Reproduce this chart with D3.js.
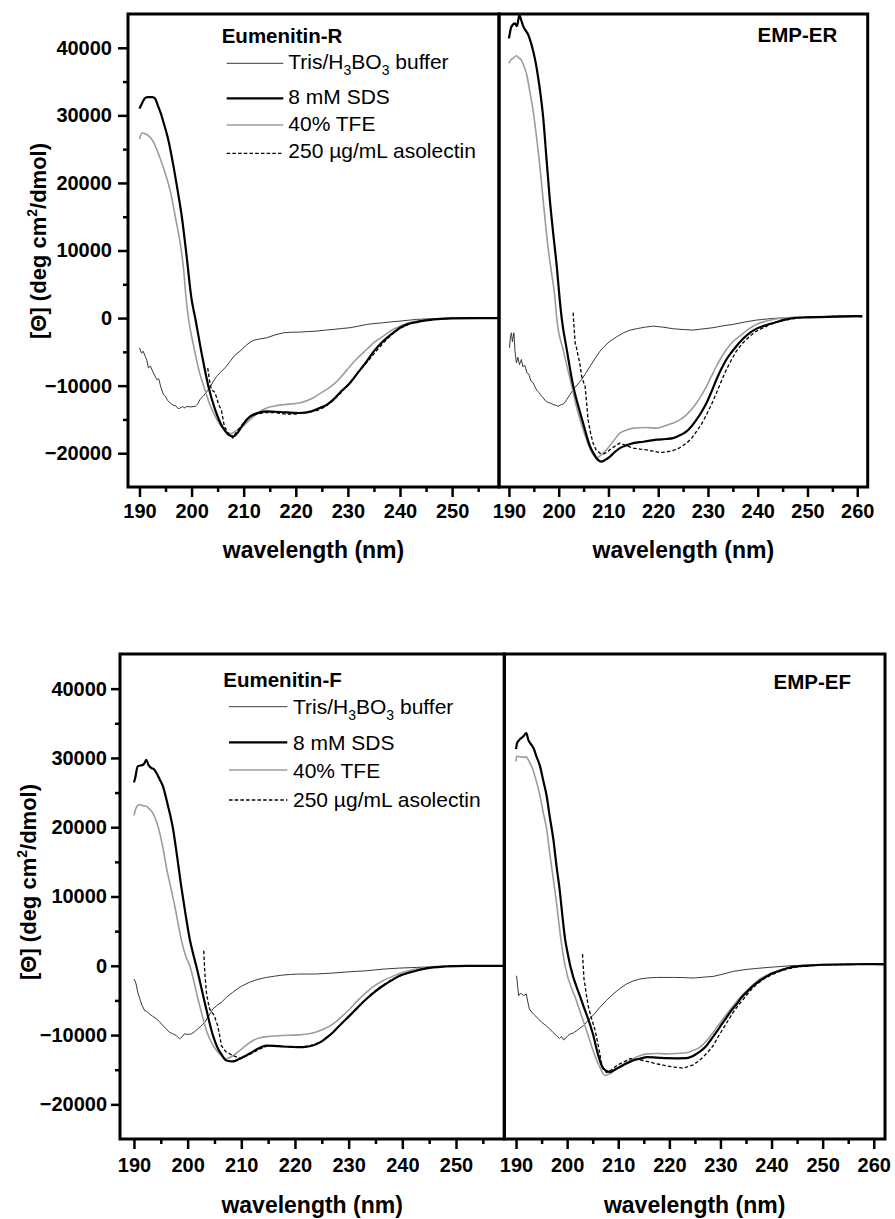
<!DOCTYPE html>
<html><head><meta charset="utf-8">
<script src="https://cdn.jsdelivr.net/npm/d3@7"></script>
<style>
body{margin:0;background:#fff}
svg{display:block}
text{font-family:"Liberation Sans",Arial,Helvetica,sans-serif;fill:#000}
</style>
</head><body>
<svg id="c" width="895" height="1219"></svg>
<script>
// ---------------- DATA (wavelength nm, [Θ] deg cm2/dmol) ----------------
// Eumenitin-R
const R_buffer=[[190,-4400],[190.4,-5200],[190.7,-4900],[191.1,-5640],[191.4,-6200],[191.7,-7370],[192.1,-7100],[192.6,-8000],[193,-8600],[193.3,-9100],[193.7,-9000],[194.1,-10200],[194.6,-11330],[195,-11600],[195.4,-12200],[195.9,-12570],[196.5,-12900],[197,-13000],[197.4,-13400],[197.8,-13310],[198.3,-13100],[198.7,-13300],[199.1,-13070],[199.8,-13150],[200.7,-13070],[201.2,-12700],[201.6,-12070],[202.3,-11500],[203.2,-10590],[204,-9600],[204.8,-8610],[205.6,-8000],[206.7,-7130],[207.5,-6300],[208.3,-5500],[209.3,-4900],[210.5,-4000],[211.8,-3310],[213,-3100],[214.4,-2920],[216,-2500],[217.6,-2180],[219,-2100],[220.7,-2080],[222.3,-2000],[223.9,-1930],[225.5,-1800],[227.2,-1680],[228.8,-1550],[230.4,-1430],[232,-1200],[233.6,-940],[235.2,-800],[236.8,-690],[238.4,-550],[240,-450],[241.6,-320],[243.2,-200],[246,-100],[250,0],[255,50],[259,50]];
const R_sds=[[190,31000],[190.5,31800],[191,32500],[191.5,32700],[192.5,32700],[193,32500],[193.5,31500],[194,30500],[194.6,29000],[195.5,26500],[196.5,22600],[197.3,19000],[198.1,15150],[199,9500],[200,2800],[200.7,0],[202,-5500],[203.2,-10000],[204.5,-13500],[206,-16200],[207,-17200],[208,-17500],[209,-16800],[210,-15600],[211.2,-14600],[212.5,-14100],[214.4,-13800],[217,-13900],[220.7,-14050],[223,-13800],[224.6,-13300],[226,-12800],[227.2,-12070],[228.5,-11000],[230.4,-9600],[232,-8000],[233.6,-6400],[235,-4900],[236.8,-3400],[238.5,-2300],[240,-1430],[241.5,-900],[243.2,-590],[245,-350],[246.5,-200],[250,-50],[255,0],[259,0]];
const R_tfe=[[190,26500],[190.5,27400],[191,27300],[191.7,27000],[192.7,26050],[193.3,25000],[194,23570],[195,21300],[195.9,18860],[197,14500],[197.8,11200],[198.5,7000],[198.9,3300],[199.4,0],[200.5,-4500],[201.5,-8000],[202.3,-10000],[203.5,-12800],[205,-15200],[206.5,-16700],[207.5,-17100],[208.5,-16700],[210,-15900],[211.2,-15040],[212.8,-14000],[214.4,-13300],[216,-13000],[217.6,-12820],[220.7,-12570],[223.3,-11830],[225,-11000],[227.2,-9850],[228.8,-8600],[230.4,-7130],[232,-5800],[233.6,-4650],[235.2,-3500],[236.8,-2670],[238.4,-1800],[240,-1190],[241.6,-750],[243.2,-450],[245,-250],[247,-100],[250,0],[259,0]];
const R_asolectin=[[203.1,-7400],[203.5,-9500],[203.8,-10600],[204.5,-11000],[205.2,-12800],[205.7,-13560],[206,-14800],[206.3,-16040],[207,-17000],[207.9,-17760],[208.5,-17000],[209.5,-16000],[211,-14700],[212.5,-14200],[214,-14000],[216,-14000],[218,-14200],[220,-14200],[222,-14000],[224,-13700],[225.5,-13200],[227,-12300],[228.5,-11200],[230,-9900],[231.8,-8200],[233.6,-6600],[235.3,-5000],[237,-3500],[238.5,-2400],[240,-1500],[241.7,-900],[243,-600],[245,-300],[247,-150],[250,-50],[255,0],[259,0]];
// EMP-ER
const ER_buffer=[[190.1,-4400],[190.3,-2800],[190.5,-2180],[190.7,-3500],[191,-2180],[191.2,-4800],[191.5,-6630],[191.8,-5800],[192.1,-6900],[192.5,-6130],[192.8,-7200],[193.2,-7000],[193.6,-8110],[194,-8300],[194.4,-9300],[194.8,-9500],[195.2,-10100],[195.6,-10700],[196,-11000],[196.5,-11500],[196.9,-11830],[197.4,-12300],[197.9,-12500],[198.4,-12600],[198.9,-12820],[199.4,-12900],[199.9,-13070],[200.5,-12800],[201,-12700],[201.6,-12070],[202.2,-11400],[202.9,-10590],[203.7,-9900],[204.6,-9100],[205.4,-8200],[206.3,-7130],[207.3,-6000],[208.3,-4900],[209.3,-4100],[210.3,-3420],[211.6,-2800],[213,-2180],[214.3,-1800],[215.6,-1580],[217.3,-1350],[219,-1190],[221,-1350],[223,-1580],[225,-1700],[227,-1780],[229,-1600],[231,-1430],[233,-1150],[235,-940],[237.3,-600],[239.7,-300],[243,-50],[246.4,60],[250,100],[255,150],[259.8,200],[261,180]];
const ER_sds=[[190,41400],[190.5,43130],[191.2,43620],[191.6,43200],[192.1,44850],[192.5,44000],[192.9,43130],[193.4,42500],[193.9,41880],[194.4,40800],[194.9,39410],[195.4,37700],[195.9,35450],[196.4,32800],[196.9,29510],[197.5,24000],[198.2,17630],[198.9,12500],[199.6,7720],[200.2,2780],[200.6,0],[201.7,-5000],[202.9,-10000],[204,-13200],[204.9,-15540],[205.6,-17400],[206.3,-19000],[207,-20000],[207.6,-20740],[208.6,-21240],[209.3,-21000],[210.3,-20500],[211.3,-19800],[212.3,-19250],[213.7,-18800],[215,-18500],[217,-18300],[219.7,-18000],[221.5,-17900],[223,-17770],[224.5,-17300],[225.7,-16780],[226.7,-16000],[227.7,-15040],[228.7,-13900],[229.7,-12570],[230.7,-10900],[231.7,-9100],[232.7,-7500],[233.7,-6130],[234.7,-5100],[235.7,-4160],[237,-3100],[238.4,-2180],[239.7,-1600],[241.1,-1190],[242.5,-850],[243.8,-590],[245,-300],[246.4,-100],[248,50],[250,100],[255,200],[259.8,300],[261,250]];
const ER_tfe=[[190,37680],[190.5,38300],[190.8,38420],[191.5,38820],[192,38500],[192.5,38180],[193,37300],[193.6,35940],[194.2,33500],[194.9,30500],[195.5,27000],[196.2,22580],[197,16500],[197.9,10200],[198.6,6500],[199.2,3270],[199.6,0],[201,-5000],[202.6,-10000],[203.4,-12600],[204.3,-15000],[205.5,-17800],[206.5,-19700],[207.6,-20700],[208.5,-20300],[209.6,-19500],[211,-18200],[212.3,-17030],[213.5,-16600],[215,-16290],[217.5,-16200],[219.7,-16290],[221.5,-15900],[223,-15540],[224.5,-15000],[225.7,-14300],[226.7,-13500],[227.7,-12570],[228.7,-11400],[229.7,-10100],[230.7,-8600],[231.7,-7130],[232.7,-5800],[233.7,-4650],[235,-3500],[236.4,-2670],[238,-1700],[239.7,-940],[241.4,-500],[243.1,-200],[245,0],[248,150],[252,200],[256,250],[260,350],[261,300]];
const ER_asolectin=[[202.9,800],[203.1,-1500],[203.3,-3650],[203.6,-4500],[203.9,-5640],[204.2,-6500],[204.6,-8610],[205,-9500],[205.3,-10100],[205.6,-12500],[205.9,-15040],[206.4,-17000],[206.9,-18500],[207.5,-19500],[208.3,-20000],[209,-20100],[209.6,-19900],[210.8,-19200],[212.3,-18500],[213.7,-18900],[215,-19250],[216.4,-19400],[217.7,-19500],[219,-19700],[220.3,-19900],[221.7,-19800],[223,-19600],[224.3,-19200],[225.7,-18500],[226.7,-17800],[227.7,-16780],[228.7,-15700],[229.7,-14300],[230.7,-12800],[231.7,-11080],[232.7,-9300],[233.7,-7620],[234.7,-6200],[235.7,-4900],[237,-3700],[238.4,-2670],[239.7,-1950],[241.1,-1430],[242.5,-950],[243.8,-590],[245.5,-300],[247.1,-100],[249,100],[252,200],[256,250],[260,300],[261,350]];
// Eumenitin-F
const F_buffer=[[190,-1910],[190.2,-2200],[190.4,-2630],[190.7,-3800],[191.1,-4790],[191.5,-5700],[192,-6470],[192.4,-6600],[192.9,-6950],[193.5,-7300],[194.2,-7670],[194.8,-8100],[195.4,-8630],[196,-9100],[196.6,-9590],[197.2,-9800],[197.9,-10070],[198.5,-10550],[198.9,-10300],[199.4,-9830],[200,-9900],[200.7,-9830],[201.3,-9500],[201.9,-9110],[202.5,-8700],[203.2,-8150],[203.9,-7300],[204.7,-6230],[205.5,-5700],[206.3,-5270],[207.3,-4500],[208.4,-3830],[209.9,-3000],[211.5,-2390],[213.1,-1950],[214.7,-1680],[216.2,-1500],[217.7,-1340],[219.2,-1250],[220.8,-1190],[223.8,-1190],[227.1,-1050],[230.2,-860],[233.3,-720],[236.4,-480],[239.5,-330],[242.6,-240],[245.7,-140],[249,-50],[254,0],[259,0]];
const F_sds=[[190,26470],[190.2,27000],[190.7,28780],[191.2,28900],[191.7,29020],[192,29300],[192.3,29740],[192.7,29000],[193.2,28550],[193.7,28400],[194.2,27830],[194.8,26900],[195.4,25900],[196.3,23200],[197.3,19670],[198,16000],[198.8,11510],[199.6,7500],[200.4,3840],[201,1800],[201.6,0],[203.1,-5000],[204.7,-10000],[205.5,-11700],[206.3,-12800],[207.2,-13670],[208.4,-13810],[209.5,-13500],[210.5,-13100],[211.5,-12700],[213,-12000],[214.7,-11510],[216.2,-11550],[217.7,-11650],[219.3,-11700],[220.8,-11750],[222,-11700],[223.3,-11510],[224.3,-11200],[225.2,-10790],[226.2,-10200],[227.1,-9590],[228.6,-8400],[230.2,-7190],[231.7,-6000],[233.3,-4790],[234.8,-3800],[236.4,-2880],[238,-2100],[239.5,-1440],[241,-1050],[242.6,-720],[244,-450],[245.7,-240],[248,-100],[252,0],[259,0]];
const F_tfe=[[190,21680],[190.4,22790],[191.1,23270],[191.7,23100],[192.3,23020],[192.9,22600],[193.5,22070],[194.2,20800],[194.8,19190],[195.4,17000],[196,14390],[196.8,11500],[197.6,8630],[198.2,6200],[198.8,3840],[199.6,1500],[200.4,0],[202,-5000],[203.8,-10000],[205,-11800],[206.2,-12900],[207.2,-13420],[208.4,-13000],[209.7,-12230],[211,-11400],[212.2,-10790],[213.5,-10400],[214.7,-10220],[217.7,-10070],[220.8,-9970],[222.3,-9850],[223.8,-9590],[225.5,-9100],[227.1,-8390],[228.6,-7400],[230.2,-6230],[231.7,-5000],[233.3,-3830],[234.8,-2900],[236.4,-2160],[238,-1600],[239.5,-1100],[241,-750],[242.6,-480],[244.5,-250],[247,-80],[250,0],[259,0]];
const F_asolectin=[[203,2160],[203.2,-1000],[203.5,-3830],[203.8,-5200],[204.1,-6230],[204.5,-6700],[205,-7190],[205.3,-8000],[205.6,-8630],[206,-10200],[206.3,-11510],[206.8,-12100],[207.2,-12460],[207.8,-12700],[208.4,-12950],[209.2,-13200],[210,-13420],[211,-13000],[212,-12600],[213.5,-12000],[215,-11500],[217,-11600],[219,-11700],[221,-11750],[223,-11500],[224.5,-11100],[225.5,-10600],[227,-9700],[228.5,-8500],[230,-7300],[231.5,-6100],[233,-5000],[234.5,-3900],[236,-3000],[238,-2000],[240,-1300],[241.5,-900],[243,-600],[244.5,-350],[246,-200],[248,-80],[250,0],[259,0]];
// EMP-EF
const EF_buffer=[[190.1,-1440],[190.3,-2800],[190.5,-4320],[190.8,-4000],[191.1,-4070],[191.5,-4300],[192,-4070],[192.3,-5200],[192.6,-6230],[193.2,-6800],[193.7,-7190],[194.3,-7600],[195,-8150],[195.8,-8600],[196.6,-9110],[197.2,-9600],[197.9,-10070],[198.5,-10500],[198.9,-10200],[199.3,-10700],[199.6,-10550],[200.1,-10100],[200.6,-9830],[201.2,-9700],[201.9,-9350],[202.5,-9000],[203.2,-8630],[204,-8000],[204.7,-7430],[205.5,-6800],[206.4,-5990],[207.7,-5000],[209,-4070],[210.3,-3300],[211.6,-2630],[212.9,-2200],[214.2,-1910],[215.8,-1750],[217.5,-1680],[220.8,-1680],[222.7,-1700],[224.7,-1770],[226.6,-1650],[228.6,-1530],[230.5,-1200],[232.5,-810],[234.8,-550],[237.1,-380],[240,-200],[243.6,0],[247,100],[252,150],[256,200],[260,200],[262,250]];
const EF_sds=[[190,31280],[190.2,32140],[190.8,32720],[191.4,33090],[192,33580],[192.4,32620],[192.9,32000],[193.4,31420],[194,30200],[194.7,28780],[195.3,26800],[196,24460],[196.6,21500],[197.3,18230],[197.9,14500],[198.6,10560],[199.1,7000],[199.6,3840],[200.1,1800],[200.6,0],[202.8,-5000],[205.1,-10000],[206,-12700],[207.1,-14860],[208.4,-15340],[209.3,-15000],[210.3,-14620],[211.6,-14100],[212.9,-13670],[214.3,-13400],[215.6,-13190],[217.5,-13250],[219.5,-13330],[221.5,-13350],[223.4,-13330],[224.4,-13100],[225.3,-12710],[226.3,-12200],[227.3,-11510],[228.2,-10600],[229.2,-9590],[230.2,-8500],[231.2,-7430],[232.2,-6400],[233.2,-5510],[234.1,-4600],[235.1,-3830],[236.4,-2900],[237.7,-2160],[239,-1550],[240.3,-1050],[242,-600],[243.6,-240],[245,-80],[246.8,0],[250,150],[255,200],[260,250],[262,200]];
const EF_tfe=[[190,29500],[190.1,30220],[190.6,30200],[191.1,30120],[192,30120],[192.7,29260],[193.2,28500],[193.7,27340],[194.2,26000],[194.7,24460],[195.3,22200],[196,19670],[196.6,16200],[197.3,12470],[198,8600],[198.6,4800],[199.1,2200],[199.6,0],[201.8,-5000],[204.1,-10000],[205.2,-12500],[206.3,-14500],[207.4,-15830],[208.5,-15500],[209.7,-14860],[211.3,-14100],[212.9,-13420],[214.2,-13000],[215.6,-12710],[217.5,-12650],[219.5,-12710],[221.5,-12650],[223.4,-12560],[224.7,-12200],[226,-11740],[227.3,-10800],[228.6,-9590],[229.5,-8700],[230.5,-7670],[231.5,-6700],[232.5,-5760],[233.8,-4600],[235.1,-3600],[236.4,-2700],[237.7,-1910],[239,-1400],[240.3,-960],[242,-550],[243.6,-240],[245.5,0],[248,150],[252,200],[256,200],[260,300],[262,250]];
const EF_asolectin=[[203,1680],[203.3,-1910],[203.6,-3350],[204.1,-5760],[204.7,-7430],[205.4,-9110],[206.1,-11510],[206.8,-14390],[207.7,-15440],[208.7,-15000],[209.7,-14390],[211,-13900],[212.3,-13420],[213.6,-13500],[214.9,-13670],[216.2,-13900],[217.5,-14140],[219.2,-14400],[220.8,-14620],[222.7,-14770],[224.7,-14290],[225.6,-13800],[226.6,-13190],[227.6,-12400],[228.6,-11510],[229.5,-10300],[230.5,-9110],[231.5,-7900],[232.5,-6710],[233.5,-5700],[234.5,-4790],[235.8,-3600],[237.1,-2630],[238.7,-1800],[240.3,-1190],[242,-700],[243.6,-380],[245.2,-150],[246.8,0],[250,150],[255,200],[260,250],[262,300]];

// ticks & labels
const xTicksLeft=[190,200,210,220,230,240,250];
const xTicksRight=[190,200,210,220,230,240,250,260];
const xMinorTicks=[195,205,215,225,235,245,255];
const yTicks=[-20000,-10000,0,10000,20000,30000,40000];
const yMinorTicks=[-15000,-5000,5000,15000,25000,35000];
const rowTitles=["Eumenitin-R","Eumenitin-F"];
const panelTitles=["EMP-ER","EMP-EF"];
const xLabel="wavelength (nm)";

// ---------------- LAYOUT ----------------
const svg=d3.select("#c");
const FONT='"Liberation Sans",Arial,Helvetica,sans-serif';
const styles={
  buffer:{stroke:"#3a3a3a",width:1,dash:null,curve:d3.curveLinear},
  sds:{stroke:"#000",width:2.2,dash:null,curve:d3.curveMonotoneX},
  tfe:{stroke:"#9c9c9c",width:1.6,dash:null,curve:d3.curveMonotoneX},
  asolectin:{stroke:"#000",width:1.3,dash:"3.5,2.2",curve:d3.curveLinear}
};
const rows=[
  {top:14,bottom:487,left:128,mid:499,right:867.7,xdomL:[187.8,259],xdomR:[188,262.1],
   series:[{buffer:R_buffer,sds:R_sds,tfe:R_tfe,asolectin:R_asolectin},{buffer:ER_buffer,sds:ER_sds,tfe:ER_tfe,asolectin:ER_asolectin}],
   tickPad:7,yTickSize:10,yPad:6,xLabelY:558,yLabelX:46,yLabelY:241,
   title:{x:221.7,y:43.3},emp:{x:837.3,y:41.7},
   leg:{x1:226.7,x2:283.3,tx:288.3,ly:[63.3,98.3,125,153.3],ty:[69.3,104,130.7,158.3]}},
  {top:654,bottom:1139,left:120,mid:504.3,right:885,xdomL:[187.4,259],xdomR:[187.7,262.2],
   series:[{buffer:F_buffer,sds:F_sds,tfe:F_tfe,asolectin:F_asolectin},{buffer:EF_buffer,sds:EF_sds,tfe:EF_tfe,asolectin:EF_asolectin}],
   tickPad:9,yTickSize:9,yPad:4,xLabelY:1213,yLabelX:36,yLabelY:882,
   title:{x:223.3,y:686.7},emp:{x:851,y:689.3},
   leg:{x1:229,x2:287.3,tx:293,ly:[706.7,742.3,770,800],ty:[714,750,778.3,806.7]}}
];
const order=["buffer","sds","tfe","asolectin"];
const drawOrder=["buffer","tfe","asolectin","sds"];

rows.forEach((r,ri)=>{
  const y=d3.scaleLinear().domain([-25000,45000]).range([r.bottom,r.top]);
  const panels=[
    {x0:r.left,x1:r.mid,dom:r.xdomL,ticks:xTicksLeft,data:r.series[0]},
    {x0:r.mid,x1:r.right,dom:r.xdomR,ticks:xTicksRight,data:r.series[1]}
  ];
  panels.forEach((p,pi)=>{
    const x=d3.scaleLinear().domain(p.dom).range([p.x0,p.x1]);
    const cid=`clip${ri}${pi}`;
    svg.append("clipPath").attr("id",cid).append("rect")
      .attr("x",p.x0).attr("y",r.top).attr("width",p.x1-p.x0).attr("height",r.bottom-r.top);
    const g=svg.append("g").attr("clip-path",`url(#${cid})`);
    drawOrder.forEach(k=>{
      const st=styles[k];
      const line=d3.line().x(d=>x(d[0])).y(d=>y(d[1])).curve(st.curve);
      g.append("path").datum(p.data[k]).attr("d",line)
        .attr("fill","none").attr("stroke",st.stroke).attr("stroke-width",st.width)
        .attr("stroke-dasharray",st.dash).attr("stroke-linejoin","round");
    });
    // x axis majors
    const ax=svg.append("g").attr("transform",`translate(0,${r.bottom})`)
      .call(d3.axisBottom(x).tickValues(p.ticks).tickSize(10).tickPadding(r.tickPad).tickFormat(d3.format("d")));
    ax.select(".domain").remove();
    ax.selectAll("line").attr("stroke","#000").attr("stroke-width",2.5);
    ax.selectAll("text").attr("font-family",FONT).attr("font-size",20).attr("font-weight","bold");
    const axm=svg.append("g").attr("transform",`translate(0,${r.bottom})`)
      .call(d3.axisBottom(x).tickValues(xMinorTicks.filter(v=>v<p.dom[1])).tickSize(5).tickFormat(""));
    axm.select(".domain").remove();
    axm.selectAll("line").attr("stroke","#000").attr("stroke-width",2.5);
    // x label
    svg.append("text").attr("x",(p.x0+p.x1)/2).attr("y",r.xLabelY).attr("text-anchor","middle")
      .attr("font-size",23).attr("font-weight","bold").text(xLabel);
  });
  // y axis
  const ay=svg.append("g").attr("transform",`translate(${r.left},0)`)
    .call(d3.axisLeft(y).tickValues(yTicks).tickSize(r.yTickSize).tickPadding(r.yPad).tickFormat(d3.format("d")));
  ay.select(".domain").remove();
  ay.selectAll("line").attr("stroke","#000").attr("stroke-width",2.5);
  ay.selectAll("text").attr("font-family",FONT).attr("font-size",20).attr("font-weight","bold");
  const aym=svg.append("g").attr("transform",`translate(${r.left},0)`)
    .call(d3.axisLeft(y).tickValues(yMinorTicks).tickSize(5).tickFormat(""));
  aym.select(".domain").remove();
  aym.selectAll("line").attr("stroke","#000").attr("stroke-width",2.5);
  // frames
  [[r.left,r.mid],[r.mid,r.right]].forEach(([a,b])=>{
    svg.append("rect").attr("x",a).attr("y",r.top).attr("width",b-a).attr("height",r.bottom-r.top)
      .attr("fill","none").attr("stroke","#000").attr("stroke-width",3);
  });
  // y label
  const yl=svg.append("text").attr("transform",`translate(${r.yLabelX},${r.yLabelY}) rotate(-90)`)
    .attr("text-anchor","middle").attr("font-size",22).attr("font-weight","bold");
  yl.append("tspan").text("[\u0398] (deg cm");
  yl.append("tspan").attr("font-size",14).attr("dy",-9).text("2");
  yl.append("tspan").attr("dy",9).text("/dmol)");
  // titles
  svg.append("text").attr("x",r.title.x).attr("y",r.title.y).attr("font-size",20.5).attr("font-weight","bold").text(rowTitles[ri]);
  svg.append("text").attr("x",r.emp.x).attr("y",r.emp.y).attr("text-anchor","end").attr("font-size",20.5).attr("font-weight","bold").text(panelTitles[ri]);
  // legend
  order.forEach((k,i)=>{
    const st=styles[k];
    svg.append("line").attr("x1",r.leg.x1).attr("x2",r.leg.x2).attr("y1",r.leg.ly[i]).attr("y2",r.leg.ly[i])
      .attr("stroke",st.stroke).attr("stroke-width",k==="sds"?2.2:(k==="buffer"?1:1.3)).attr("stroke-dasharray",st.dash);
    const t=svg.append("text").attr("x",r.leg.tx).attr("y",r.leg.ty[i]).attr("font-size",21);
    if(k==="buffer"){
      t.append("tspan").text("Tris/H");
      t.append("tspan").attr("font-size",14).attr("dy",6).text("3");
      t.append("tspan").attr("dy",-6).text("BO");
      t.append("tspan").attr("font-size",14).attr("dy",6).text("3");
      t.append("tspan").attr("dy",-6).text(" buffer");
    } else if(k==="sds"){ t.text("8 mM SDS"); }
    else if(k==="tfe"){ t.text("40% TFE"); }
    else { t.text("250 \u00B5g/mL asolectin"); }
  });
});
</script>
</body></html>
